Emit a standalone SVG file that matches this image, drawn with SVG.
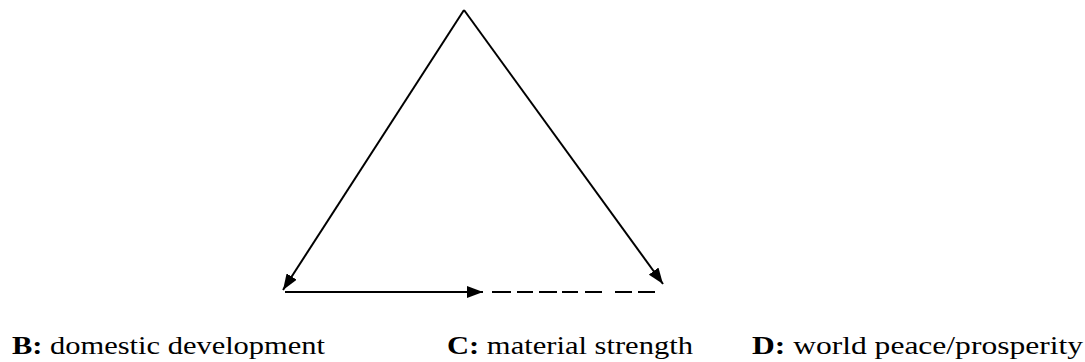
<svg xmlns="http://www.w3.org/2000/svg" width="1085" height="362" viewBox="0 0 1085 362">
<style>
.ln{stroke:#000;stroke-width:2;fill:none}
.lbl{font-family:'Liberation Serif','DejaVu Serif',serif;font-size:25px;fill:#000}
.b{font-weight:bold}
</style>
<defs>
<marker id="ah" viewBox="0 0 16 12" refX="16" refY="6" markerWidth="16" markerHeight="12" markerUnits="userSpaceOnUse" orient="auto">
<path d="M0,0 L16,6 L0,12 Z" fill="#000"/>
</marker>
</defs>
<rect width="1085" height="362" fill="#fff"/>
<g id="connectors">
<line class="ln" x1="464" y1="10" x2="283" y2="290" marker-end="url(#ah)"/>
<line class="ln" x1="464" y1="10" x2="663" y2="284" marker-end="url(#ah)"/>
<line class="ln" x1="285" y1="292" x2="483" y2="292" marker-end="url(#ah)"/>
<path class="ln" d="M492,292H511M517,292H533M539,292H557M562,292H578M585,292H602M615,292H632M638,292H655"/>
</g>
<g id="node-B"><text class="lbl" x="12" y="354" textLength="313" lengthAdjust="spacingAndGlyphs"><tspan class="b">B:</tspan> domestic development</text></g>
<g id="node-C"><text class="lbl" x="447" y="354" textLength="246" lengthAdjust="spacingAndGlyphs"><tspan class="b">C:</tspan> material strength</text></g>
<g id="node-D"><text class="lbl" x="752" y="354" textLength="331" lengthAdjust="spacingAndGlyphs"><tspan class="b">D:</tspan> world peace/prosperity</text></g>
</svg>
